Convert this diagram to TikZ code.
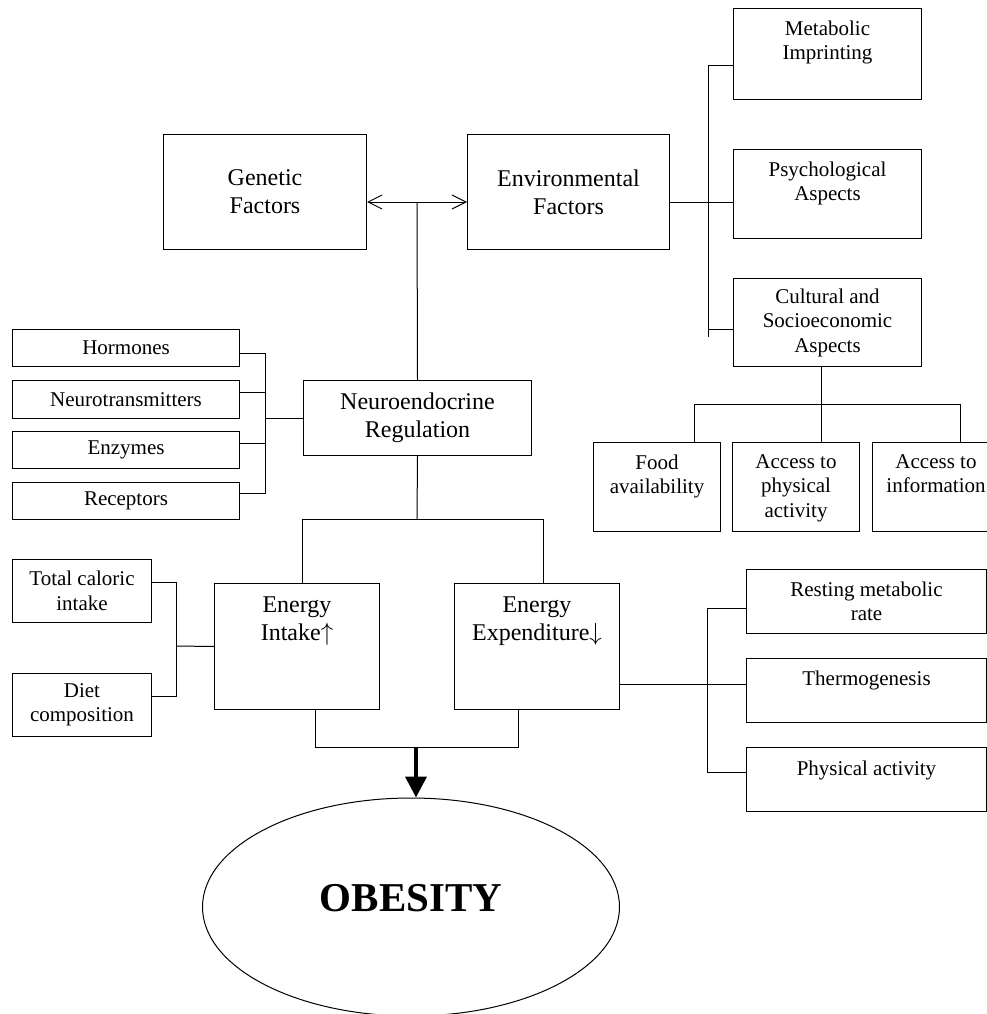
\documentclass[tikz,border=0pt]{standalone}
\usepackage{fontspec}
\setmainfont{Liberation Serif}
\usetikzlibrary{arrows.meta,shapes.geometric}

\tikzset{
  box/.style={draw, inner sep=0pt, anchor=north west, align=center,
    font=\fontsize{21}{24.5}\selectfont},
  bigbox/.style={box, font=\fontsize{24}{28}\selectfont},
  wh/.style 2 args={minimum width=#1pt, minimum height=#2pt},
  lbl/.style={anchor=north, inner sep=0pt, align=center,
    font=\fontsize{21}{24.5}\selectfont},
  biglbl/.style={lbl, font=\fontsize{24}{28}\selectfont},
  link/.style={line width=1pt},
  barb/.style={{Straight Barb[length=14pt,width=14pt]}-{Straight Barb[length=14pt,width=14pt]}},
}

\begin{document}
\begin{tikzpicture}[x=1pt, y=-1pt, link]
\useasboundingbox (0,0) rectangle (987,1014);

% factors
\node[bigbox, wh={203}{115}] (gen) at (163,134) {Genetic\\Factors};
\node[bigbox, wh={202}{115}] (env) at (467,134) {Environmental\\Factors};
\node[bigbox, wh={228}{75}] (neuro) at (303,380) {Neuroendocrine\\Regulation};

% environmental aspects
\node[box, wh={188}{91}, label={[lbl, yshift=-12pt]north:Metabolic\\Imprinting}] (meta) at (733,8) {};
\node[box, wh={188}{89}, label={[lbl, yshift=-12pt]north:Psychological\\Aspects}] (psy) at (733,149) {};
\node[box, wh={188}{88}] (cult) at (733,278) {Cultural and\\Socioeconomic\\Aspects};
\node[box, wh={127}{89}, label={[lbl, yshift=-12pt]north:Food\\availability}] (food) at (593,442) {};
\node[box, wh={127}{89}, label={[lbl, yshift=-12pt]north:Access to\\physical\\activity}] (phys) at (732,442) {};
\node[box, wh={127}{89}, label={[lbl, yshift=-12pt]north:Access to\\information}] (info) at (872,442) {};

% regulators
\node[box, wh={227}{37}] (hor) at (12,329) {Hormones};
\node[box, wh={227}{38}] (neu) at (12,380) {Neurotransmitters};
\node[box, wh={227}{37}] (enz) at (12,431) {Enzymes};
\node[box, wh={227}{37}] (rec) at (12,482) {Receptors};

% energy balance
\node[box, wh={165}{126}, label={[biglbl, yshift=-13pt]north:Energy\\Intake$\uparrow$}] (intake) at (214,583) {};
\node[box, wh={165}{126}, label={[biglbl, yshift=-13pt]north:Energy\\Expenditure$\downarrow$}] (expend) at (454,583) {};
\node[box, wh={139}{63}] (tci) at (12,559) {Total caloric\\intake};
\node[box, wh={139}{63}] (diet) at (12,673) {Diet\\composition};
\node[box, wh={240}{64}] (rmr) at (746,569) {Resting metabolic\\rate};
\node[box, wh={240}{64}, label={[lbl, yshift=-12pt]north:Thermogenesis}] (thermo) at (746,658) {};
\node[box, wh={240}{64}, label={[lbl, yshift=-13pt]north:Physical activity}] (pa) at (746,747) {};

\node[draw, ellipse, inner sep=0pt, minimum width=417pt, minimum height=218pt,
  label={[font=\fontsize{41}{45}\selectfont\bfseries, yshift=9pt]center:OBESITY}] (obesity) at (411,907) {};

% connectors
\coordinate (hub) at (417,202);
\draw[barb] (gen.east |- hub) -- (env.west |- hub);
\draw (hub) -- (neuro.north);
\draw (env.east |- hub) -- (psy.west |- hub);
\draw (meta.west |- 0,66) -| (708,337);
\draw (cult.west |- 0,329) -- (708,329);

\draw (cult.south -| 821,0) -- (phys.north -| 821,0);
\draw (food.north -| 694,0) -- (694,404) -| (info.north -| 960,0);

\draw (hor.east |- 0,353) -| (265,493) -- (rec.east |- 0,493);
\draw (neu.east |- 0,392) -- (265,392);
\draw (enz.east |- 0,443) -- (265,443);
\draw (neuro.west) -- (265,418);

\draw (neuro.south) -- (417,519);
\draw (intake.north -| 302,0) -- (302,519) -| (expend.north -| 543,0);

\draw (tci.east |- 0,582) -| (176,696) -- (diet.east |- 0,696);
\draw (intake.west) -- (176,646);

\draw (rmr.west |- 0,608) -| (707,772) -- (pa.west |- 0,772);
\draw (expend.east |- 0,684) -- (thermo.west |- 0,684);

\draw (intake.south -| 315,0) -- (315,747) -| (expend.south -| 518,0);
\coordinate (join) at (416,747);
\draw[-{Triangle[length=21pt,width=21pt]}, line width=4pt] (join) -- (join |- obesity.north);
\end{tikzpicture}
\end{document}
